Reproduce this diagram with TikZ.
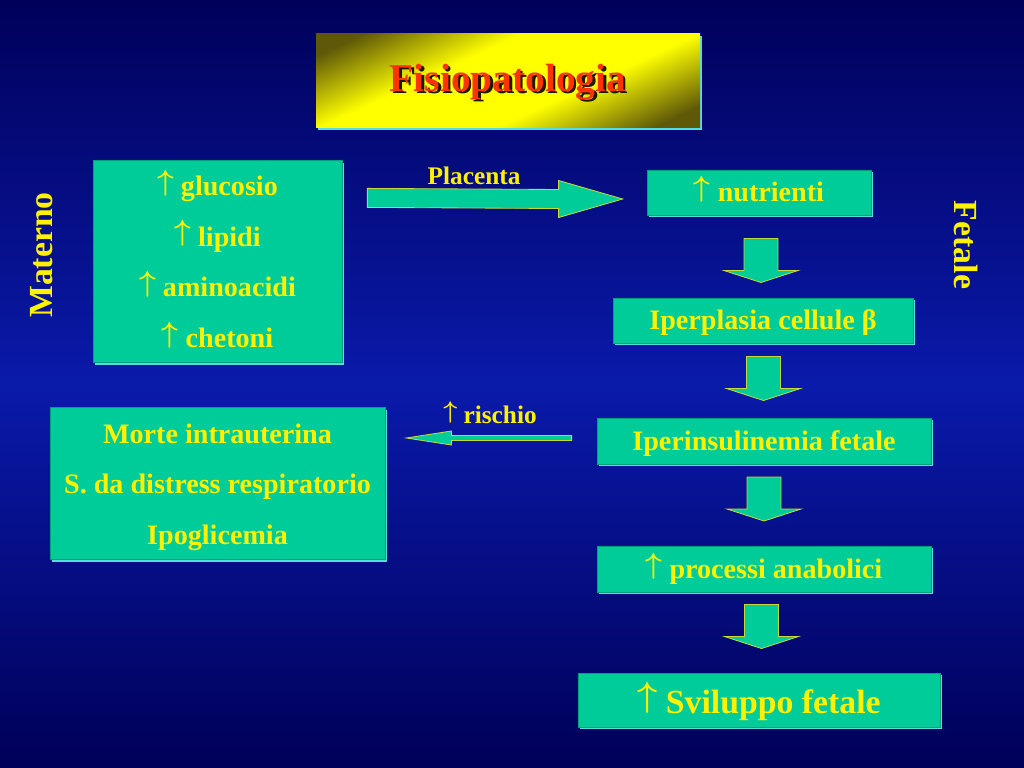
\documentclass[tikz,border=0pt]{standalone}
\usepackage{fontspec}
\setmainfont{Liberation Serif}
\usetikzlibrary{calc,shadows}

\definecolor{bgtop}{HTML}{00005A}
\definecolor{bgmid}{HTML}{0A1AAA}
\definecolor{bgbot}{HTML}{000058}
\definecolor{boxgreen}{HTML}{00CC99}
\definecolor{boxedge}{HTML}{00A07A}
\definecolor{boxshade}{HTML}{55DDDD}
\definecolor{arrowedge}{HTML}{C8D838}
\definecolor{titlered}{HTML}{FF3300}
\definecolor{titledark}{HTML}{5E5808}

\pgfdeclareverticalshading{titleglow}{100bp}{color(0bp)=(titledark); color(22bp)=(titledark);
    color(40bp)=(yellow); color(60bp)=(yellow); color(78bp)=(titledark); color(100bp)=(titledark)}

\newcommand{\pxu}{0.025cm}
\newcommand{\upar}{\raisebox{0.19em}{\boldmath$\uparrow$}}

\begin{document}
\begin{tikzpicture}[x=0.025cm,y=-0.025cm,
    box/.style={fill=boxgreen,draw=boxedge,line width=0.5pt,text=yellow,align=center,inner sep=0pt,
        font=\bfseries\fontsize{20}{36}\selectfont,
        general shadow={shadow xshift=1.6pt,shadow yshift=-1.6pt,fill=boxshade,opacity=1}},
    onebox/.style={box,text height=13.5pt,text depth=0pt},
    blockarrow/.style={fill=boxgreen,draw=arrowedge,line width=0.6pt,line join=miter},
    side/.style={text=yellow,font=\bfseries\fontsize{24}{28}\selectfont},
    small/.style={text=yellow,font=\bfseries\fontsize{18}{22}\selectfont}]

    % Background
    \node[minimum width=1024*\pxu,minimum height=768*\pxu,inner sep=0pt,outer sep=0pt,
        top color=bgtop,bottom color=bgbot,middle color=bgmid] (bg) at (512,384) {};

    % Title
    \node[minimum width=384*\pxu,minimum height=94*\pxu,inner sep=0pt,shading=titleglow,shading angle=25,
        general shadow={shadow xshift=1.6pt,shadow yshift=-1.6pt,fill=boxshade,opacity=1}] (titlebox) at (508,81) {};
    \node[text=black!70!titledark,font=\bfseries\fontsize{28}{32}\selectfont] (titleshadow) at (510.5,84.5) {Fisiopatologia};
    \node[text=titlered,font=\bfseries\fontsize{28}{32}\selectfont] (title) at (508,82) {Fisiopatologia};

    % Side labels
    \node[side,rotate=90] (materno) at (42,255) {Materno};
    \node[side,rotate=-90] (fetale) at (966,245) {Fetale};

    % Maternal box
    \node[box,minimum width=249*\pxu,minimum height=199*\pxu] (mat) at (217.5,261.5)
        {\strut\upar{} glucosio\\ \strut\upar{} lipidi\\ \strut\upar{} aminoacidi\\ \strut\upar{} chetoni};

    % Fetal chain
    \node[onebox,minimum width=224*\pxu,minimum height=45*\pxu] (nutr) at (759,192.5) {\upar{} nutrienti};
    \node[onebox,minimum width=300*\pxu,minimum height=45*\pxu] (iperpl) at (763,320.5) {Iperplasia cellule β};
    \node[onebox,minimum width=334*\pxu,minimum height=46*\pxu] (iperins) at (764,441) {Iperinsulinemia fetale};
    \node[onebox,minimum width=334*\pxu,minimum height=46*\pxu] (anab) at (764,569) {\upar{} processi anabolici};
    \node[onebox,minimum width=362*\pxu,minimum height=54*\pxu,text height=18.5pt,
        font=\bfseries\fontsize{24}{28}\selectfont] (svil) at (759,700) {\upar{} Sviluppo fetale};

    % Risk box
    \node[box,minimum width=335*\pxu,minimum height=149*\pxu] (risk) at (217.5,483.5)
        {\strut Morte intrauterina\\ \strut S. da distress respiratorio\\ \strut Ipoglicemia};

    % Down arrows
    \foreach \a/\b/\s in {nutr/iperpl/4,iperpl/iperins/-2,iperins/anab/-6,anab/svil/-6}{
        \coordinate (c) at ($(\a.south)!0.5!(\b.north)+(0,\s)$);
        \draw[blockarrow] (c) ++(-17,-22) -- ++(34,0) -- ++(0,32) -- ++(20,0) -- ++(-37,12)
            -- ++(-37,-12) -- ++(20,0) -- cycle;
    }

    % Placenta arrow
    \coordinate (pt) at ($(mat.north east)+(25,38)$);
    \coordinate (ph) at ($(nutr.west)+(-24,6.5)$);
    \draw[blockarrow] ($(pt)+(0,-9.5)$) -- ($(ph)+(-64,-9.5)$) -- ($(ph)+(-64,-18.5)$) -- (ph)
        -- ($(ph)+(-64,18.5)$) -- ($(ph)+(-64,9.5)$) -- ($(pt)+(0,9.5)$) -- cycle;
    \node[small] (plac) at ($(pt)!0.5!(ph)+(-21,-23)$) {Placenta};

    % Risk arrow
    \coordinate (rt) at ($(iperins.west)+(-25,-3)$);
    \coordinate (rh) at ($(rt -| risk.east)+(21,0)$);
    \draw[blockarrow] ($(rt)+(0,-2.5)$) -- ($(rh)+(45,-2.5)$) -- ($(rh)+(45,-7)$) -- (rh)
        -- ($(rh)+(45,7)$) -- ($(rh)+(45,2.5)$) -- ($(rt)+(0,2.5)$) -- cycle;
    \node[small] (rischio) at ($(rt)!0.5!(rh)+(1,-25)$) {\upar{} rischio};
\end{tikzpicture}
\end{document}
